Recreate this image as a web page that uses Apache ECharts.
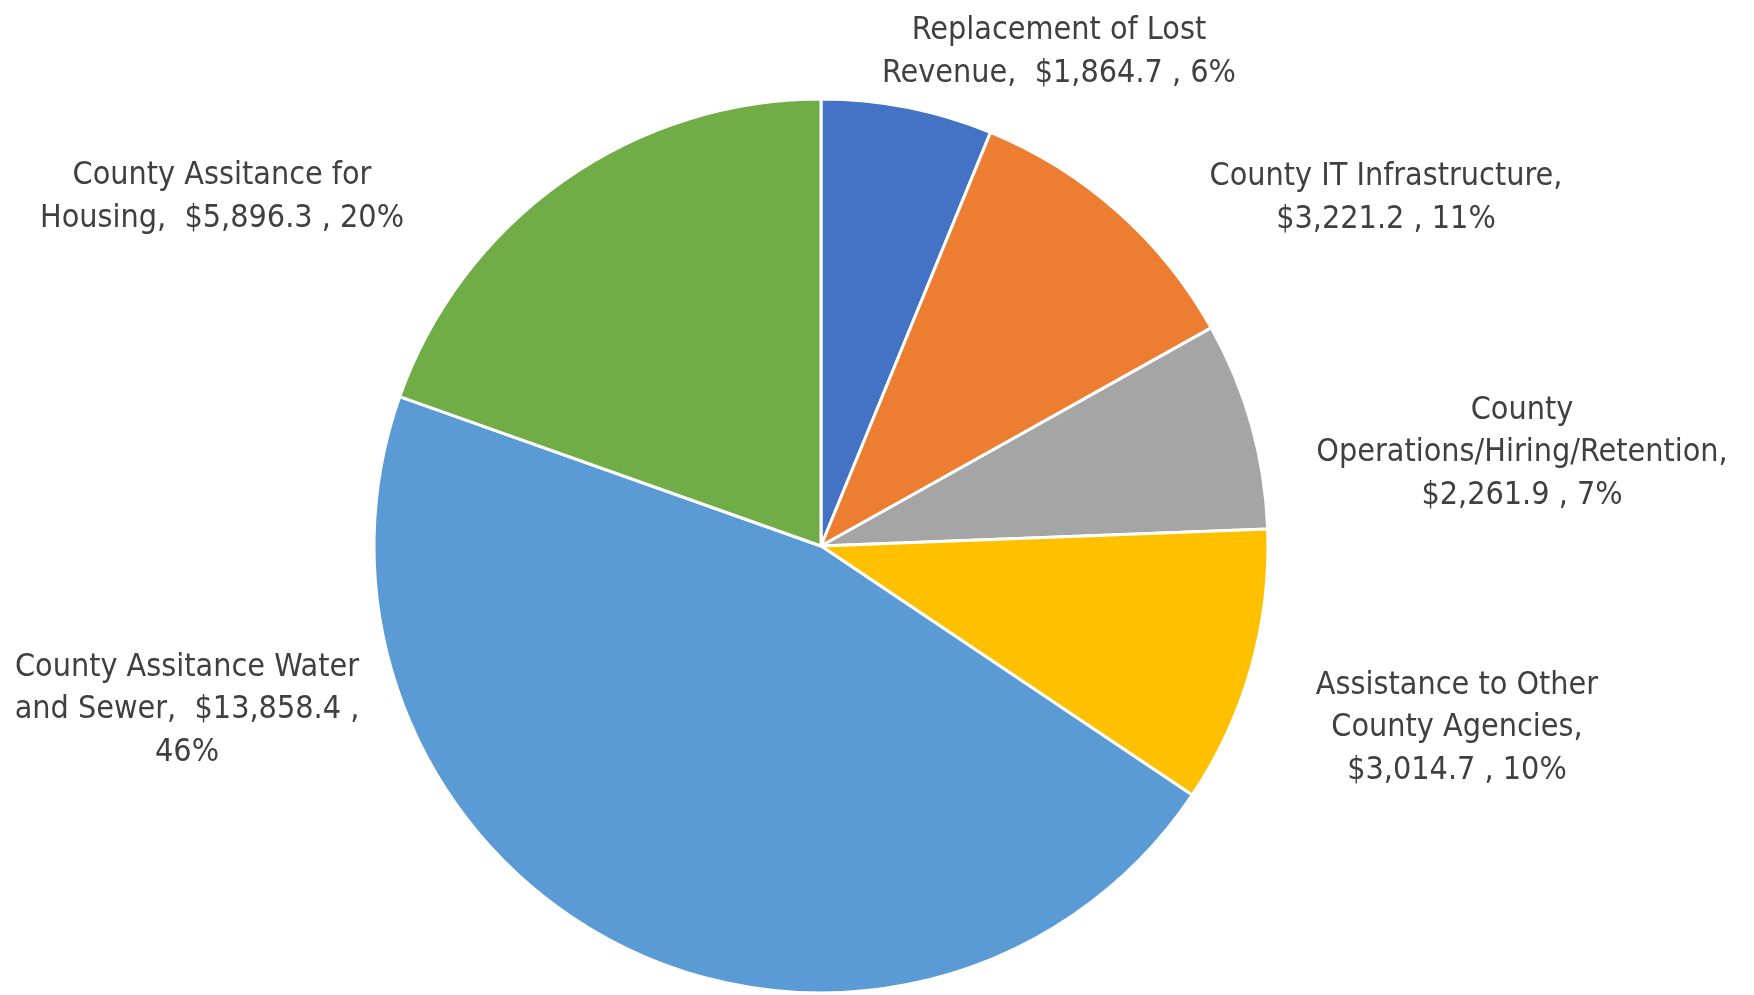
<!DOCTYPE html>
<html>
<head>
<meta charset="utf-8">
<script src="https://cdn.jsdelivr.net/npm/echarts@6/dist/echarts.min.js"></script>
<style>
html,body{margin:0;padding:0;background:#fff;}
#chart{width:1754px;height:995px;}
</style>
</head>
<body>
<div id="chart"></div>
<script>
// ---- data ----
const categories = [
  'Replacement of Lost Revenue',
  'County IT Infrastructure',
  'County Operations/Hiring/Retention',
  'Assistance to Other County Agencies',
  'County Assitance Water and Sewer',
  'County Assitance for Housing'
];
const values = [1864.7, 3221.2, 2261.9, 3014.7, 13858.4, 5896.3];
const percents = [6, 11, 7, 10, 46, 20];

// ---- layout / style (not data) ----
const colors = ['#4472C4', '#ED7D31', '#A5A5A5', '#FFC000', '#5B9BD5', '#70AD47'];
const lineBreaks = [[3], [3], [1, 2], [3, 5], [3, 8], [3]];
const labelPos = [[1059, 52], [1386, 198], [1522, 453], [1457, 728], [187, 710], [222, 197]];

function fmt(v) {
  return '$' + v.toLocaleString('en-US', {minimumFractionDigits: 1, maximumFractionDigits: 1});
}
function labelText(i) {
  const full = categories[i] + ',  ' + fmt(values[i]) + ' , ' + percents[i] + '%';
  const tokens = full.split(' ');
  const starts = [0].concat(lineBreaks[i]).concat([tokens.length]);
  const lines = [];
  for (let k = 0; k < starts.length - 1; k++) {
    lines.push(tokens.slice(starts[k], starts[k + 1]).join(' ').trim());
  }
  return lines.join('\n');
}

const chart = echarts.init(document.getElementById('chart'), null, {renderer: 'canvas'});
chart.setOption({
  backgroundColor: '#ffffff',
  animation: false,
  color: colors,
  series: [{
    type: 'pie',
    center: [821, 546],
    radius: 447,
    startAngle: 90,
    clockwise: true,
    avoidLabelOverlap: false,
    data: categories.map((c, i) => ({name: c, value: values[i]})),
    itemStyle: {borderColor: '#ffffff', borderWidth: 3},
    label: {
      show: true,
      position: 'outside',
      formatter: p => labelText(p.dataIndex),
      color: '#404040',
      fontFamily: "'Liberation Sans Narrow', 'DejaVu Sans Condensed', 'Open Sans', sans-serif",
      fontSize: 32,
      lineHeight: 42.5,
      align: 'center'
    },
    labelLine: {show: false},
    labelLayout: function (params) {
      const pos = labelPos[params.dataIndex];
      return {x: pos[0], y: pos[1], align: 'center', verticalAlign: 'middle'};
    },
    emphasis: {disabled: true}
  }]
});
</script>
</body>
</html>
